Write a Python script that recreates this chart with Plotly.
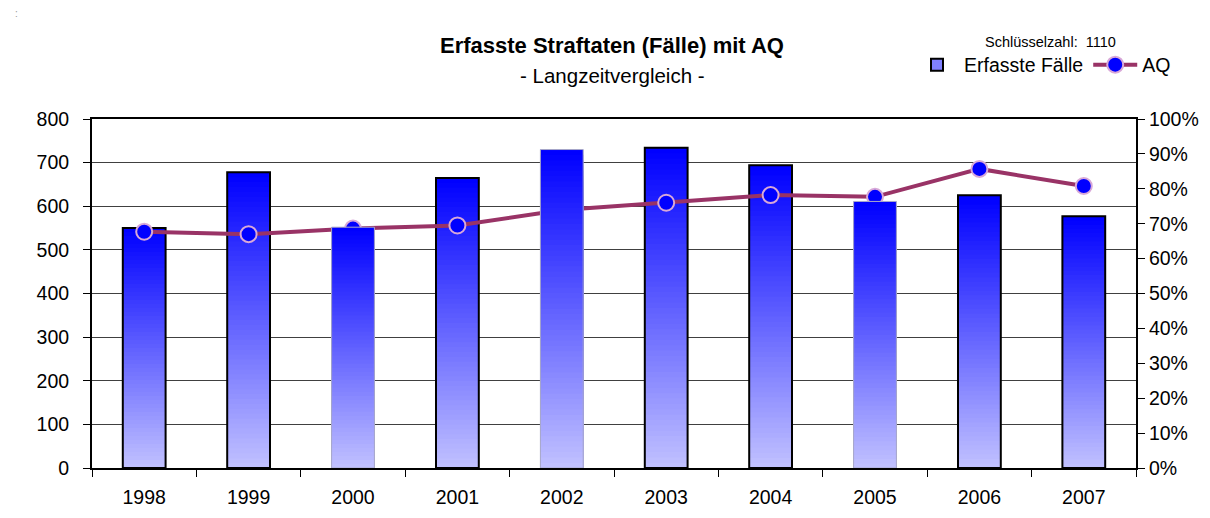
import plotly.graph_objs as go

# data
years = ['1998', '1999', '2000', '2001', '2002', '2003', '2004', '2005', '2006', '2007']
cases = [550, 678, 552, 665, 730, 734, 694, 611, 625, 577]
aq = [0.677, 0.670, 0.686, 0.695, 0.739, 0.760, 0.782, 0.777, 0.857, 0.808]
# bars that are drawn on top of the AQ line (no black outline)
front_years = ['2000', '2002', '2005']

left_ticks = [0, 100, 200, 300, 400, 500, 600, 700, 800]
right_ticks = [0, 0.1, 0.2, 0.3, 0.4, 0.5, 0.6, 0.7, 0.8, 0.9, 1.0]

font = 'Liberation Sans, Arial, sans-serif'
n_bands = 60
top_rgb = (0, 0, 255)
bottom_rgb = (192, 192, 255)

# page body has an 8px margin -> shift the plot area back
off = 8
left, top, width, height = 92 - off, 119 - off, 1044, 349


def px_x(x):
    return (x - off - left) / width


def px_y(y):
    return (top + height - (y - off)) / height


fig = go.Figure()


def add_gradient_bars(values, yaxis):
    # tallest (darkest) first, then shorter and lighter ones on top -> vertical gradient
    for k in range(n_bands):
        f = (n_bands - k) / n_bands
        t = k / (n_bands - 1)
        col = 'rgb({},{},{})'.format(*[round(a + (b - a) * t) for a, b in zip(top_rgb, bottom_rgb)])
        fig.add_trace(go.Bar(x=years,
                             y=[None if v is None else v * f for v in values],
                             yaxis=yaxis,
                             marker=dict(color=col, line=dict(width=0)),
                             showlegend=False,
                             hoverinfo='skip'))


back_vals = [None if y in front_years else v for y, v in zip(years, cases)]
front_vals = [v if y in front_years else None for y, v in zip(years, cases)]

# back bars (with black outline)
add_gradient_bars(back_vals, 'y')
fig.add_trace(go.Bar(x=years, y=back_vals,
                     marker=dict(color='rgba(0,0,0,0)', line=dict(color='black', width=2)),
                     showlegend=False, hoverinfo='skip'))

# legend entry for the bars
fig.add_trace(go.Bar(x=[None], y=[None], name='Erfasste Fälle',
                     marker=dict(color='#8080FF', line=dict(color='black', width=2))))

# AQ line on the right axis
fig.add_trace(go.Scatter(x=years, y=aq, name='AQ', yaxis='y2',
                         mode='lines+markers',
                         line=dict(color='#993366', width=4),
                         marker=dict(color='#0000FF', size=16,
                                     line=dict(color='#D8A8D8', width=2))))

# front bars (on top of the line)
add_gradient_bars(front_vals, 'y3')
fig.add_trace(go.Bar(x=years, y=front_vals, yaxis='y3',
                     marker=dict(color='rgba(0,0,0,0)', line=dict(color='#A8A8C8', width=1)),
                     showlegend=False, hoverinfo='skip'))

fig.update_layout(
    width=1210, height=518,
    margin=dict(l=left, r=1210 - left - width, t=top, b=518 - top - height),
    paper_bgcolor='white', plot_bgcolor='white',
    font=dict(family=font, size=19.5, color='black'),
    barmode='overlay', bargap=0.59,
    xaxis=dict(type='category', range=[-0.5, len(years) - 0.5], showline=True,
               linecolor='black', linewidth=2, mirror=True,
               ticks='outside', tickson='boundaries', ticklen=7, tickcolor='black',
               showgrid=False, tickfont=dict(size=19.5), ticklabelstandoff=11),
    yaxis=dict(range=[0, 800], tickvals=left_ticks, showline=True, linecolor='black',
               linewidth=2, mirror=True, ticks='outside', ticklen=7, tickcolor='black',
               showgrid=True, gridcolor='#404040', gridwidth=1, zeroline=False,
               tickfont=dict(size=19.5), ticklabelstandoff=10),
    yaxis2=dict(range=[0, 1], tickvals=right_ticks, tickformat='.0%', overlaying='y',
                side='right', showline=True, linecolor='black', linewidth=2,
                ticks='outside', ticklen=7, tickcolor='black', showgrid=False,
                zeroline=False, tickfont=dict(size=19.5)),
    yaxis3=dict(range=[0, 800], overlaying='y', visible=False, showgrid=False),
    legend=dict(orientation='h', x=px_x(910), y=px_y(65), xanchor='left', yanchor='middle',
                font=dict(size=19.5), bgcolor='rgba(0,0,0,0)', traceorder='normal',
                itemwidth=44),
    annotations=[
        dict(text='<b>Erfasste Straftaten (Fälle) mit AQ</b>', xref='paper', yref='paper',
             x=px_x(612), y=px_y(46), showarrow=False,
             font=dict(size=22), xanchor='center', yanchor='middle'),
        dict(text='- Langzeitvergleich -', xref='paper', yref='paper',
             x=px_x(612), y=px_y(75), showarrow=False,
             font=dict(size=20.5), xanchor='center', yanchor='middle'),
        dict(text='Schlüsselzahl:  1110', xref='paper', yref='paper',
             x=px_x(1050), y=px_y(42), showarrow=False,
             font=dict(size=14.5), xanchor='center', yanchor='middle'),
        dict(text=':', xref='paper', yref='paper',
             x=px_x(16), y=px_y(14), showarrow=False,
             font=dict(size=10, color='#999999'), xanchor='center', yanchor='middle'),
    ],
)

fig.write_html('out.html')
